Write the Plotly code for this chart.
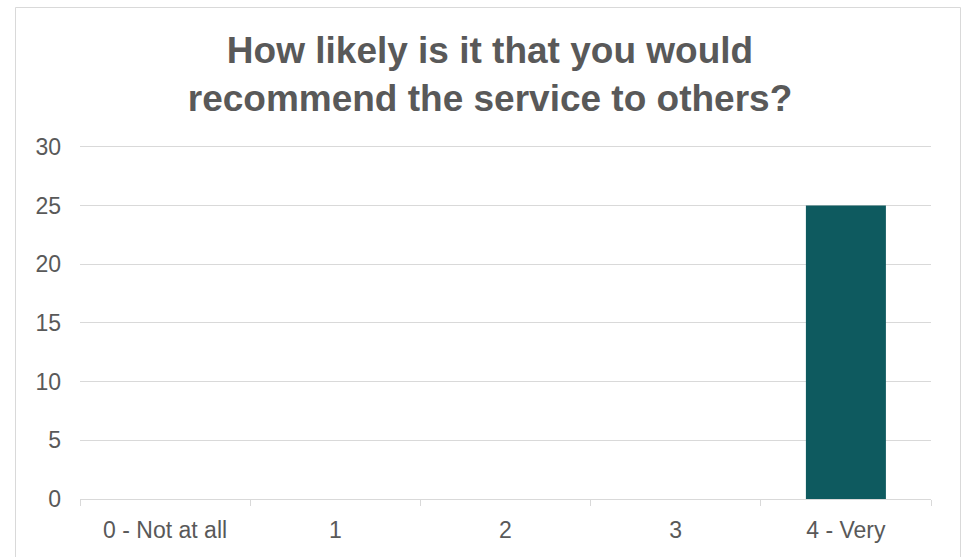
import plotly.graph_objects as go

# Survey responses
categories = ["0 - Not at all", "1", "2", "3", "4 - Very"]
counts = [0, 0, 0, 0, 25]
y_ticks = [0, 5, 10, 15, 20, 25, 30]

title_text = "How likely is it that you would<br>recommend the service to others?"

W, H = 967, 557
L, R, T, B = 80, 36, 145, 58
pw, ph = W - L - R, H - T - B

def px_x(v):
    return (v - L) / pw

def px_y(v):
    return (H - B - v) / ph

fig = go.Figure(
    go.Bar(
        x=categories,
        y=counts,
        marker=dict(color="#0E5A5F", line=dict(width=0)),
        hoverinfo="x+y",
    )
)

fig.update_layout(
    width=W,
    height=H,
    margin=dict(l=L, r=R, t=T, b=B),
    paper_bgcolor="white",
    plot_bgcolor="white",
    bargap=0.53,
    showlegend=False,
    font=dict(family="Liberation Sans, Arial, sans-serif", color="#595959"),
    title=dict(
        text=title_text,
        font=dict(size=37, color="#595959", family="Liberation Sans, Arial, sans-serif", weight="bold"),
        x=px_x(490),
        xref="paper",
        xanchor="center",
        y=1 - 63 / H,
        yref="container",
        yanchor="middle",
    ),
    shapes=[
        dict(
            type="rect",
            xref="paper",
            yref="paper",
            x0=px_x(15.5),
            x1=px_x(960.5),
            y0=px_y(600),
            y1=px_y(7.5),
            line=dict(color="#d9d9d9", width=1),
            fillcolor="rgba(0,0,0,0)",
            layer="below",
        )
    ],
)

fig.update_xaxes(
    type="category",
    showgrid=False,
    showline=True,
    linecolor="#d9d9d9",
    linewidth=1,
    ticks="outside",
    tickson="boundaries",
    ticklen=6,
    tickcolor="#d9d9d9",
    ticklabelstandoff=10,
    tickfont=dict(size=23, color="#595959"),
    fixedrange=True,
)

fig.update_yaxes(
    range=[0, 30.15],
    tickvals=y_ticks,
    showgrid=True,
    gridcolor="#d9d9d9",
    gridwidth=1,
    zeroline=False,
    showline=False,
    ticks="",
    ticklabelstandoff=18,
    tickfont=dict(size=23, color="#595959"),
    fixedrange=True,
)

fig.write_html("out.html")
